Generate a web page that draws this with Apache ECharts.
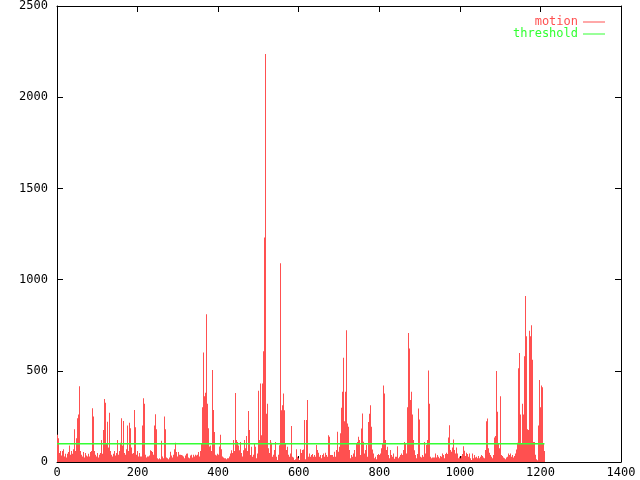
<!DOCTYPE html>
<html>
<head>
<meta charset="utf-8">
<script src="https://cdn.jsdelivr.net/npm/echarts@6/dist/echarts.min.js"></script>
<style>html,body{margin:0;padding:0;background:#fff}#c{width:640px;height:480px}</style>
</head>
<body>
<div id="c"></div>
<script>
// motion value per sample (sample spacing STEP along x)
const STEP = 2.482;
const motion = [
150,130,50,60,35,60,70,30,45,25,
45,55,90,40,60,45,70,180,60,130,
240,260,415,60,40,30,55,25,50,35,
30,45,30,55,60,295,250,60,40,30,
50,25,40,50,120,45,175,345,325,100,
220,80,270,60,40,30,45,60,35,50,
120,40,60,105,240,90,225,50,40,70,
200,60,215,185,80,45,50,285,190,40,
60,30,50,
30,30,200,350,320,40,25,30,30,35,
65,60,55,40,200,262,180,20,15,20,
15,116,30,20,250,180,25,20,15,25,
56,35,25,40,70,105,55,30,55,40,
40,38,35,30,20,35,45,47,25,20,
35,40,25,40,30,40,35,40,55,30,
60,100,300,600,360,380,810,320,185,85,
90,60,505,285,165,40,35,45,40,85,
150,70,30,25,
20,20,15,20,20,30,47,65,50,120,
60,378,120,110,90,65,110,50,30,65,
120,75,142,60,280,175,38,84,29,40,
100,84,20,47,390,120,430,147,430,607,
1231,2237,265,320,75,50,120,105,29,40,
66,110,29,11,40,92,1089,284,311,375,
284,100,66,84,40,29,47,197,29,25,
11,15,70,29,20,11,70,50,66,69,
230,15,
230,340,29,47,29,38,44,29,38,29,
93,66,51,29,38,20,38,47,29,51,
38,29,147,138,38,38,38,29,56,29,
66,166,56,84,158,297,385,571,224,385,
722,211,193,66,20,38,29,47,66,29,
100,110,138,120,38,184,266,111,47,66,
93,29,219,265,311,193,69,47,20,29,
15,38,44,38,47,75,102,420,375,120,
66,84,38,
20,66,38,29,47,18,29,29,87,20,
29,38,47,38,66,110,102,47,300,707,
622,340,385,260,120,65,38,20,44,293,
233,29,25,38,29,110,47,93,120,502,
320,29,20,25,25,25,47,25,38,29,
20,33,29,47,38,20,44,51,44,135,
202,66,56,80,124,66,47,80,47,20,
29,20,33,44,87,62,33,51,44,29,
47,20,11,
47,20,38,25,29,20,33,20,29,38,
33,25,20,66,224,238,75,51,38,29,
20,38,135,142,499,275,102,75,360,38,
33,25,20,15,25,29,47,38,47,29,
38,25,33,47,69,105,514,598,260,102,
320,260,580,910,690,180,175,720,690,750,
560,110,110,40,15,10,200,450,300,420,
410,100,60
];
const thresholdValue = 100;
const thresholdRange = [0, 1210];
const xRange = [0, 1400], xInterval = 200;
const yRange = [0, 2500], yInterval = 500;
const seriesNames = ['motion', 'threshold'];

const RED = '#ff5050', GREEN = '#33ff33';
const FONT = 'DejaVu Sans Mono';

const chart = echarts.init(document.getElementById('c'), null, {renderer: 'canvas'});
const motionData = motion.map((v, j) => [j * STEP, v]);
const thrData = thresholdRange.map(x => [x, thresholdValue]);

const plain = v => String(v);
const axisCommon = {
  type: 'value',
  axisLine: {show: true, onZero: false, lineStyle: {color: '#000', width: 1}},
  axisTick: {show: true, inside: true, length: 6, lineStyle: {color: '#000'}},
  splitLine: {show: false}
};

chart.setOption({
  animation: false,
  backgroundColor: '#fff',
  grid: {left: 57, top: 5, width: 564, height: 457, show: false},
  legend: {
    orient: 'vertical', right: 30, top: 11, align: 'right',
    itemWidth: 22, itemHeight: 1, itemGap: 0, icon: 'rect',
    textStyle: {fontFamily: FONT, fontSize: 12, lineHeight: 11},
    data: [
      {name: seriesNames[0], textStyle: {color: RED}},
      {name: seriesNames[1], textStyle: {color: GREEN}}
    ]
  },
  xAxis: [
    Object.assign({}, axisCommon, {min: xRange[0], max: xRange[1], interval: xInterval, position: 'bottom',
      axisLabel: {color: '#000', fontFamily: FONT, fontSize: 12, margin: 5, formatter: plain}}),
    Object.assign({}, axisCommon, {min: xRange[0], max: xRange[1], interval: xInterval, position: 'top',
      axisLabel: {show: false}})
  ],
  yAxis: [
    Object.assign({}, axisCommon, {min: yRange[0], max: yRange[1], interval: yInterval, position: 'left',
      axisLabel: {color: '#000', fontFamily: FONT, fontSize: 12, margin: 9, formatter: plain}}),
    Object.assign({}, axisCommon, {min: yRange[0], max: yRange[1], interval: yInterval, position: 'right',
      axisLabel: {show: false}})
  ],
  series: [
    {
      name: seriesNames[0], type: 'custom', color: RED,
      xAxisIndex: 0, yAxisIndex: 0,
      encode: {x: 0, y: 1},
      data: motionData,
      renderItem: function (params, api) {
        const x = api.value(0), y = api.value(1);
        const top = api.coord([x, y]);
        const base = api.coord([x, 0]);
        const px = Math.round(top[0]);
        return {type: 'rect', shape: {x: px, y: top[1], width: 1, height: base[1] - top[1]},
          style: {fill: RED}};
      },
      z: 2
    },
    {
      name: seriesNames[1], type: 'line', color: GREEN,
      data: thrData, showSymbol: false, symbol: 'none',
      lineStyle: {color: GREEN, width: 1.5}, z: 3
    }
  ]
});
</script>
</body>
</html>
